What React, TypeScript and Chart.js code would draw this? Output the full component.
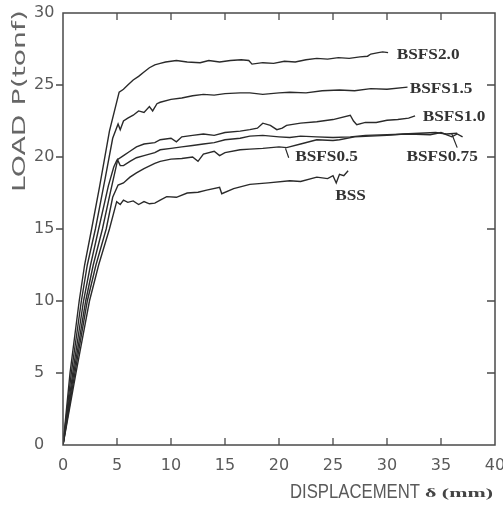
import React, { useEffect, useRef } from "react";
import { Chart, registerables } from "chart.js";

Chart.register(...registerables);

type P = [number, number];

const X_MIN = 0;
const X_MAX = 40;
const X_STEP = 5;
const Y_MIN = 0;
const Y_MAX = 30;
const Y_STEP = 5;

const SERIES_NAMES = ["BSFS2.0", "BSFS1.5", "BSFS1.0", "BSFS0.75", "BSFS0.5", "BSS"];

const BSFS20: P[] = [
  [0, 0], [0.65, 5], [1.5, 10], [2.0, 12.5], [2.65, 15], [3.4, 18], [4.3, 21.8], [5.2, 24.5], [5.6, 24.7],
  [6.0, 25.0], [6.5, 25.35], [7.0, 25.6], [7.5, 25.9], [8.0, 26.2], [8.5, 26.4], [9.0, 26.5],
  [9.5, 26.6], [10.5, 26.7], [11.5, 26.6], [12.7, 26.55], [13.5, 26.7], [14.5, 26.6],
  [15.5, 26.7], [16.5, 26.75], [17.2, 26.7], [17.5, 26.45], [18.5, 26.55], [19.5, 26.5],
  [20.5, 26.65], [21.5, 26.6], [22.5, 26.75], [23.5, 26.85], [24.5, 26.8], [25.5, 26.9],
  [26.5, 26.85], [27.5, 26.95], [28.2, 27.0], [28.5, 27.15], [29.2, 27.25], [29.6, 27.3], [30.1, 27.25],
];

const BSFS15: P[] = [
  [0, 0], [0.77, 5], [1.7, 10], [2.25, 12.5], [3.0, 15], [3.9, 18.5], [4.6, 21.3], [5.1, 22.3], [5.3, 21.9],
  [5.6, 22.5], [6.0, 22.7], [6.5, 22.9], [7.0, 23.2], [7.5, 23.1], [8.0, 23.5], [8.3, 23.2],
  [8.7, 23.7], [9.0, 23.8], [10, 24.0], [11, 24.1], [12, 24.25], [13, 24.35], [14, 24.3],
  [15, 24.4], [16.4, 24.45], [17.3, 24.45], [18.5, 24.35], [20, 24.45], [21, 24.5],
  [22.5, 24.45], [24, 24.6], [25.6, 24.65], [27, 24.6], [28.5, 24.75], [30, 24.7], [31.9, 24.85],
];

const BSFS10: P[] = [
  [0, 0], [0.9, 5], [1.9, 10], [2.55, 12.5], [3.3, 15], [4.2, 18], [4.7, 19.3], [5.0, 19.8], [5.6, 20.1],
  [6.2, 20.4], [6.8, 20.7], [7.5, 20.9], [8.5, 21.0], [9, 21.2], [10, 21.3], [10.5, 21.05],
  [11, 21.4], [12, 21.5], [13, 21.6], [14, 21.5], [15, 21.7], [16.4, 21.8], [17.3, 21.9],
  [18, 22.0], [18.5, 22.35], [19.2, 22.2], [19.8, 21.9], [20.3, 22.0], [20.7, 22.2],
  [22, 22.35], [23.5, 22.45], [25, 22.6], [26.6, 22.9], [26.9, 22.5], [27.2, 22.25],
  [28, 22.4], [29, 22.4], [30, 22.55], [31, 22.6], [32, 22.7], [32.6, 22.85],
];

const BSFS075: P[] = [
  [0, 0], [1.0, 5], [2.1, 10], [2.8, 12.5], [3.65, 15], [4.4, 17.6], [5.06, 19.8], [5.3, 19.4],
  [5.6, 19.4], [6.2, 19.7], [6.8, 19.95], [7.5, 20.1], [8.5, 20.3], [9, 20.5], [10, 20.6],
  [11, 20.7], [12, 20.8], [13, 20.9], [14, 21.0], [15, 21.2], [16.4, 21.3], [17.3, 21.45],
  [18.5, 21.5], [20, 21.4], [21, 21.35], [22, 21.45], [23.5, 21.4], [25, 21.35], [26.6, 21.4],
  [28, 21.5], [30, 21.55], [32, 21.6], [34, 21.55], [35, 21.7], [36, 21.4], [36.5, 21.6], [37, 21.4],
];

const BSFS05: P[] = [
  [0, 0], [1.1, 5], [2.25, 10], [3.05, 12.5], [4.0, 15], [4.6, 17.2], [5.1, 18.05], [5.6, 18.2],
  [6.2, 18.6], [6.8, 18.9], [7.5, 19.2], [8.5, 19.56], [9, 19.7], [10, 19.85], [11, 19.9],
  [12, 20.0], [12.5, 19.7], [13, 20.2], [14, 20.4], [14.5, 20.1], [15, 20.3], [16.4, 20.5],
  [17.3, 20.55], [18.5, 20.6], [20, 20.7], [20.7, 20.65], [22, 20.9], [23.5, 21.2], [25, 21.15],
  [25.6, 21.2], [27, 21.4], [28.5, 21.45], [30, 21.5], [31.5, 21.6], [33, 21.65], [34.5, 21.7],
  [35.5, 21.6], [36.5, 21.65],
];

const BSS: P[] = [
  [0, 0], [1.2, 5], [2.45, 10], [3.3, 12.5], [4.3, 15], [4.97, 16.9], [5.3, 16.7],
  [5.6, 17.0], [6, 16.85], [6.5, 16.95], [7, 16.7], [7.5, 16.9], [8, 16.75], [8.5, 16.8],
  [9, 17.0], [9.6, 17.25], [10.5, 17.2], [11.5, 17.5], [12.5, 17.55], [13.3, 17.7],
  [14.5, 17.9], [14.7, 17.45], [15.8, 17.8], [17.3, 18.1], [19, 18.2], [21, 18.35], [22, 18.3],
  [23.5, 18.6], [24.5, 18.5], [25, 18.7], [25.3, 18.2], [25.6, 18.8], [26, 18.7], [26.4, 19.05],
];

const SERIES: P[][] = [BSFS20, BSFS15, BSFS10, BSFS075, BSFS05, BSS];

// label anchor: left edge x, vertical centre y (data units)
const LABEL_POS: P[] = [
  [30.9, 27.1], [32.1, 24.7], [33.3, 22.75], [31.8, 20.0], [21.5, 20.0], [25.2, 17.25],
];

const LEADERS: [P, P][] = [
  [[20.6, 20.6], [20.9, 19.95]],
  [[36.0, 21.6], [36.5, 20.65]],
];

const X_TITLE = "DISPLACEMENT";
const X_TITLE_UNIT = "δ (mm)";
const Y_TITLE = "LOAD P(tonf)";

const LINE_COLOR = "#2a2a2a";
const AXIS_COLOR = "#4a4a4a";
const TEXT_COLOR = "#5a5a5a";

function drawFit(
  ctx: CanvasRenderingContext2D,
  text: string,
  font: string,
  x: number,
  y: number,
  targetWidth: number,
  align: "left" | "center",
  rotate = false
) {
  ctx.save();
  ctx.font = font;
  const w = ctx.measureText(text).width;
  const sx = targetWidth / w;
  ctx.translate(x, y);
  if (rotate) ctx.rotate(-Math.PI / 2);
  ctx.scale(sx, 1);
  ctx.textAlign = align;
  ctx.textBaseline = "alphabetic";
  ctx.fillText(text, 0, 0);
  ctx.restore();
}

const overlayPlugin = {
  id: "overlay",
  afterDraw(chart: any) {
    const ctx: CanvasRenderingContext2D = chart.ctx;
    const xs = chart.scales.x;
    const ys = chart.scales.y;
    const { left, right, top, bottom } = chart.chartArea;
    ctx.save();

    // frame
    ctx.strokeStyle = AXIS_COLOR;
    ctx.lineWidth = 1.5;
    ctx.strokeRect(left, top, right - left, bottom - top);

    // ticks
    ctx.lineWidth = 1.3;
    ctx.beginPath();
    for (let v = X_MIN + X_STEP; v < X_MAX; v += X_STEP) {
      const px = xs.getPixelForValue(v);
      ctx.moveTo(px, bottom);
      ctx.lineTo(px, bottom - 7);
      ctx.moveTo(px, top);
      ctx.lineTo(px, top + 7);
    }
    for (let v = Y_MIN + Y_STEP; v < Y_MAX; v += Y_STEP) {
      const py = ys.getPixelForValue(v);
      ctx.moveTo(left, py);
      ctx.lineTo(left - 7, py);
      ctx.moveTo(right, py);
      ctx.lineTo(right - 8, py);
    }
    ctx.stroke();

    // leader lines
    ctx.strokeStyle = LINE_COLOR;
    ctx.lineWidth = 1.2;
    ctx.beginPath();
    for (const [a, b] of LEADERS) {
      ctx.moveTo(xs.getPixelForValue(a[0]), ys.getPixelForValue(a[1]));
      ctx.lineTo(xs.getPixelForValue(b[0]), ys.getPixelForValue(b[1]));
    }
    ctx.stroke();

    // curve labels
    ctx.fillStyle = "#333";
    ctx.font = "bold 15px 'Liberation Serif'";
    ctx.textBaseline = "middle";
    SERIES_NAMES.forEach((name, i) => {
      const [lx, ly] = LABEL_POS[i];
      ctx.save();
      ctx.translate(xs.getPixelForValue(lx), ys.getPixelForValue(ly));
      ctx.scale(1.15, 1);
      ctx.textAlign = "left";
      ctx.fillText(name, 0, 0);
      ctx.restore();
    });

    // axis titles
    ctx.fillStyle = TEXT_COLOR;
    drawFit(ctx, X_TITLE, "21px 'Liberation Sans'", 290, 498, 130, "left");
    ctx.fillStyle = "#444";
    drawFit(ctx, X_TITLE_UNIT, "bold 12px 'Liberation Serif'", 425, 497, 68, "left");
    ctx.fillStyle = "#666";
    drawFit(ctx, Y_TITLE, "18px 'DejaVu Sans'", 25, 101, 182, "center", true);

    ctx.restore();
  },
};

export default function App() {
  const ref = useRef<HTMLCanvasElement | null>(null);

  useEffect(() => {
    if (!ref.current) return;
    const chart = new Chart(ref.current, {
      type: "line",
      data: {
        datasets: SERIES.map((pts, i) => ({
          label: SERIES_NAMES[i],
          data: pts.map(([x, y]) => ({ x, y })),
          borderColor: LINE_COLOR,
          borderWidth: 1.4,
          pointRadius: 0,
          tension: 0,
          fill: false,
        })),
      },
      options: {
        animation: false,
        responsive: false,
        maintainAspectRatio: false,
        events: [],
        layout: { padding: { top: 13, right: 8, left: 34, bottom: 0 } },
        plugins: {
          legend: { display: false },
          tooltip: { enabled: false },
          title: { display: false },
        },
        scales: {
          x: {
            type: "linear",
            min: X_MIN,
            max: X_MAX,
            grid: { display: false },
            border: { display: false },
            ticks: {
              stepSize: X_STEP,
              color: TEXT_COLOR,
              font: { family: "'DejaVu Sans'", size: 16 },
              padding: 3,
              maxRotation: 0,
              autoSkip: false,
            },
            afterFit: (s: any) => {
              s.height = 63;
              s.paddingLeft = 0;
              s.paddingRight = 0;
            },
          },
          y: {
            type: "linear",
            min: Y_MIN,
            max: Y_MAX,
            grid: { display: false },
            border: { display: false },
            ticks: {
              stepSize: Y_STEP,
              color: TEXT_COLOR,
              font: { family: "'DejaVu Sans'", size: 16 },
              crossAlign: "far",
              autoSkip: false,
            },
            afterFit: (s: any) => {
              s.width = 29;
              s.paddingTop = 0;
              s.paddingBottom = 0;
            },
          },
        },
      },
      plugins: [overlayPlugin],
    });
    return () => chart.destroy();
  }, []);

  return (
    <div style={{ position: "fixed", left: 0, top: 0, width: 503, height: 508, background: "#fff" }}>
      <canvas ref={ref} width={503} height={508} style={{ width: 503, height: 508, display: "block" }} />
    </div>
  );
}
